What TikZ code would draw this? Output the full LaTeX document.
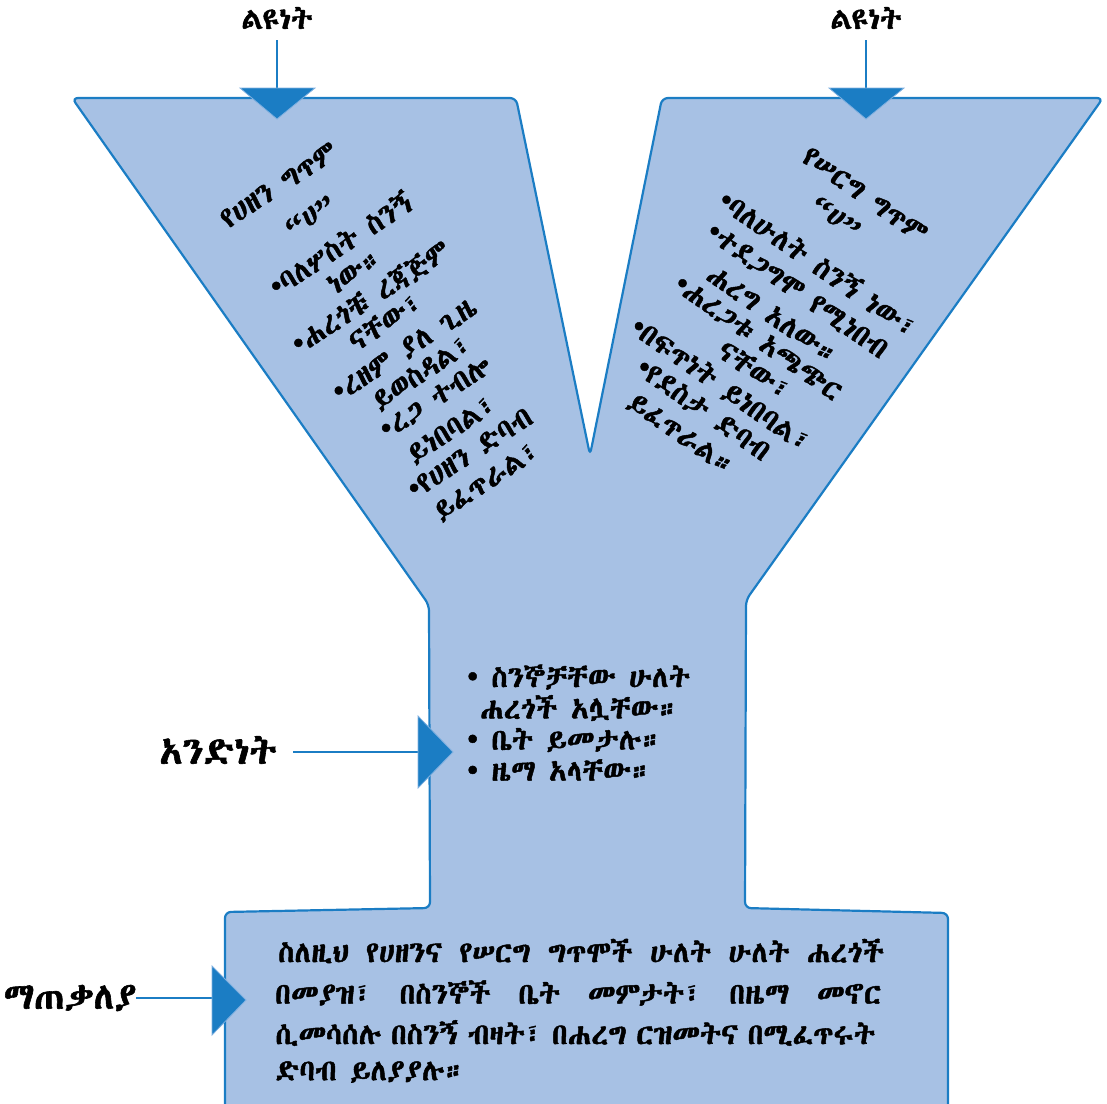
\documentclass[tikz,border=0pt]{standalone}
\usepackage{fontspec}
\newfontfamily\eth{Abyssinica SIL}[FakeBold=1.6]
\definecolor{yfill}{HTML}{A7C1E4}
\definecolor{yline}{HTML}{1B7DC4}
\definecolor{tipedge}{HTML}{7FB0E0}
\begin{document}
\begin{tikzpicture}[x=1pt,y=-1pt,
  armL/.style={font=\eth\fontsize{29}{32}\selectfont, rotate=33, inner sep=0pt},
  armR/.style={font=\eth\fontsize{29}{32}\selectfont, rotate=-35, inner sep=0pt},
  midtxt/.style={font=\eth\fontsize{29.5}{32}\selectfont, anchor=west, inner sep=0pt},
  sumtxt/.style={font=\eth\fontsize{29.5}{32}\selectfont, anchor=west, inner sep=0pt},
  lbl/.style={font=\eth\fontsize{30}{34}\selectfont, inner sep=0pt},
  conn/.style={draw=yline, line width=1.6pt},
  tip/.style={fill=yline, draw=tipedge, line width=0.8pt, line join=miter}]
\useasboundingbox (0,0) rectangle (1107,1103);
% Y shape
\draw[fill=yfill, draw=yline, line width=2.2pt, rounded corners=6pt]
  (72,98) -- (516,98) -- (590,455) -- (662,98) -- (1103,98)
  -- (746,600) -- (745,908) -- (948,913) -- (948,1112) -- (225,1112)
  -- (225,912) -- (430,908) -- (429,605) -- cycle;
% top labels and arrows
\node[lbl] (l1) at (277,18) {ልዩነት};
\node[lbl] (l2) at (866,18) {ልዩነት};
\coordinate (a1s) at (277,40); \coordinate (a1e) at (277,90);
\coordinate (a2s) at (866,40); \coordinate (a2e) at (866,90);
\draw[conn] (a1s) -- (a1e);
\draw[conn] (a2s) -- (a2e);
\draw[tip] (240,88) -- (315,88) -- (277,119) -- cycle;
\draw[tip] (829,88) -- (904,88) -- (866,119) -- cycle;
% left arm text
\node[armL] at (279,185) {የሀዘን ግጥም};
\node[armL] at (310,216) {“ሀ”};
\node[armL] at (340,243) {•ባለሦስት ስንኝ};
\node[armL] at (355,271) {ነው።};
\node[armL] at (371,297) {•ሐረጎቹ ረጃጅም};
\node[armL] at (385,321) {ናቸው፣};
\node[armL] at (405,350) {•ረዘም ያለ ጊዜ};
\node[armL] at (422,373) {ይወስዳል፣};
\node[armL] at (436,398) {•ረጋ ተብሎ};
\node[armL] at (452,430) {ይነበባል፣};
\node[armL] at (470,453) {•የሀዘን ድባብ};
\node[armL] at (487,482) {ይፈጥራል፣};
% right arm text
\node[armR] at (865,195) {የሠርግ ግጥም};
\node[armR] at (836,217) {“ሀ”};
\node[armR] at (819,263) {•ባለሁለት ስንኝ ነው፣};
\node[armR] at (797,291) {•ተደጋግሞ የሚነበብ};
\node[armR] at (773,315) {ሐረግ አለው።};
\node[armR] at (758,338) {•ሐረጋቱ አጫጭር};
\node[armR] at (755,370) {ናቸው፣};
\node[armR] at (721,385) {•በፍጥነት ይነበባል፣};
\node[armR] at (703,410) {•የደስታ ድባብ};
\node[armR] at (681,435) {ይፈጥራል።};
% middle
\node[midtxt] (m1) at (467,677) {•\ ስንኞቻቸው ሁለት};
\node[midtxt] (m2) at (480,708) {ሐረጎች አሏቸው።};
\node[midtxt] (m3) at (467,740) {•\ ቤት ይመታሉ።};
\node[midtxt] (m4) at (467,770) {•\ ዜማ አላቸው።};
\node[lbl, font=\eth\fontsize{38}{42}\selectfont] (one) at (218,750) {አንድነት};
\coordinate (a3s) at (293,752); \coordinate (a3e) at (420,752);
\draw[conn] (a3s) -- (a3e);
\draw[tip] (418,716) -- (453,752) -- (418,788) -- cycle;
% summary
\node[sumtxt] (s1) at (278,951) {\makebox[606pt][s]{ስለዚህ የሀዘንና የሠርግ ግጥሞች ሁለት ሁለት ሐረጎች}};
\node[sumtxt] (s2) at (275,993) {\makebox[606pt][s]{በመያዝ፣ በስንኞች ቤት መምታት፣ በዜማ መኖር}};
\node[sumtxt] (s3) at (275,1033) {\makebox[600pt][s]{ሲመሳሰሉ በስንኝ ብዛት፣ በሐረግ ርዝመትና በሚፈጥሩት}};
\node[sumtxt] (s4) at (275,1072) {ድባብ ይለያያሉ።};
\node[lbl, font=\eth\fontsize{37}{40}\selectfont] (sum) at (70,998) {ማጠቃለያ};
\coordinate (a4s) at (136,998); \coordinate (a4e) at (214,998);
\draw[conn] (a4s) -- (a4e);
\draw[tip] (212,966) -- (246,1000) -- (212,1035) -- cycle;
\end{tikzpicture}
\end{document}
